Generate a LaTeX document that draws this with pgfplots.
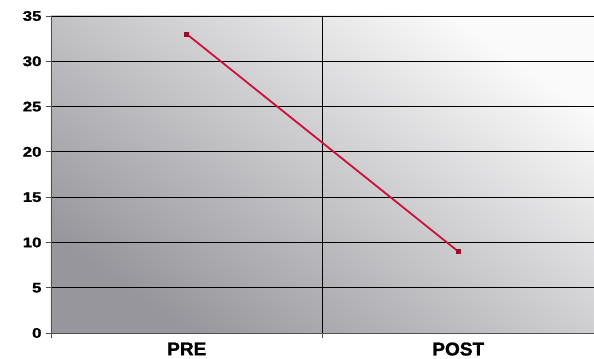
\documentclass[border=0pt]{standalone}
\usepackage{pgfplots}
\pgfplotsset{compat=1.18}
\usepackage{fontspec}
\setmainfont{Liberation Sans}
\newfontfamily\labfont[FakeStretch=1.2, FakeBold=1.2]{Liberation Sans Bold}
\newfontfamily\xlabfont[FakeStretch=1.03, FakeBold=1.2]{Liberation Sans Bold}
\definecolor{bgdark}{RGB}{150,150,156}
\definecolor{bglight}{RGB}{250,250,250}
\definecolor{linecol}{RGB}{204,16,56}
\definecolor{axgray}{RGB}{80,80,80}
\begin{document}
\begin{tikzpicture}
\begin{axis}[
  scale only axis,
  width=543bp, height=317bp,
  xmin=-0.5, xmax=1.5,
  ymin=0, ymax=35,
  ytick={0,5,...,35},
  xtick={-0.5,0.5,1.5},
  xticklabels={},
  extra x ticks={0,1},
  extra x tick labels={PRE,POST},
  extra x tick style={major tick length=0pt, tick label style={font=\xlabfont\fontsize{18.5bp}{19bp}\selectfont, yshift=-6bp}},
  axis x line*=bottom,
  axis y line*=left,
  axis line style={axgray, line width=1pt},
  tick style={axgray, line width=0.8pt},
  tick align=outside,
  major tick length=5bp,
  ymajorgrids,
  grid style={black, line width=0.8pt},
  yticklabel style={font=\labfont\fontsize{14bp}{15bp}\selectfont, xshift=-1bp},
  /pgf/number format/assume math mode=true,
  axis background/.style={shade, shading=axis, left color=bgdark, right color=bglight, shading angle=145},
  clip=false,
]
\draw[black, line width=0.8pt] (axis cs:0.5,0) -- (axis cs:0.5,35);
\addplot[linecol, line width=1.8pt, mark=square*, mark size=1.6pt, mark options={fill=linecol!75!black, draw=linecol!75!black}] coordinates {(0,33) (1,9)};
\coordinate (ll) at (rel axis cs:0,0);
\coordinate (ur) at (rel axis cs:1,1);
\end{axis}
\pgfresetboundingbox
\path[use as bounding box] ([shift={(-51bp,-26bp)}]ll) rectangle ([shift={(0bp,16bp)}]ur);
\end{tikzpicture}
\end{document}
